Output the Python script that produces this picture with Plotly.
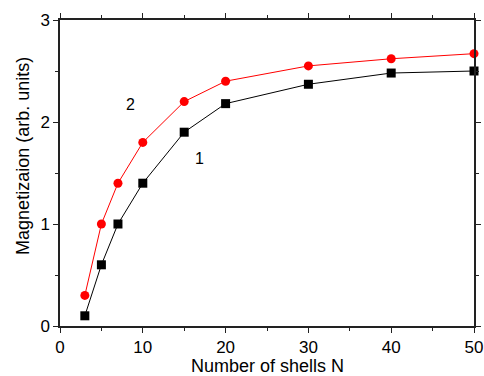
import plotly.graph_objects as go

shells = [3, 5, 7, 10, 15, 20, 30, 40, 50]
magn_1 = [0.1, 0.6, 1.0, 1.4, 1.9, 2.18, 2.37, 2.48, 2.5]
magn_2 = [0.3, 1.0, 1.4, 1.8, 2.2, 2.4, 2.55, 2.62, 2.67]
x_ticks = [0, 10, 20, 30, 40, 50]
y_ticks = [0, 1, 2, 3]

FONT = "Liberation Sans, Arial"

fig = go.Figure()
fig.add_trace(go.Scatter(x=shells, y=magn_1, mode="lines+markers",
                         line=dict(color="black", width=1),
                         marker=dict(symbol="square", size=9, color="black"),
                         cliponaxis=False))
fig.add_trace(go.Scatter(x=shells, y=magn_2, mode="lines+markers",
                         line=dict(color="red", width=1),
                         marker=dict(symbol="circle", size=9, color="red"),
                         cliponaxis=False))

fig.add_annotation(x=8.5, y=2.17, text="2", showarrow=False,
                   font=dict(size=16, color="black", family=FONT))
fig.add_annotation(x=16.9, y=1.64, text="1", showarrow=False,
                   font=dict(size=16, color="black", family=FONT))

# axis titles as annotations (positions relative to paper)
fig.add_annotation(text="Number of shells N", xref="paper", yref="paper",
                   x=0.5, y=-0.132, yanchor="middle", showarrow=False,
                   font=dict(size=18, color="black", family=FONT))
fig.add_annotation(text="Magnetizaion (arb. units)", xref="paper", yref="paper",
                   x=-0.09, xanchor="center", y=0.555, yanchor="middle", textangle=-90,
                   showarrow=False, font=dict(size=18, color="black", family=FONT))

axis_common = dict(showline=True, linecolor="#222", linewidth=1.5, mirror="ticks",
                   ticks="outside", ticklen=5, tickwidth=1, tickcolor="#222",
                   showgrid=False, zeroline=False, automargin=False,
                   ticklabeloverflow="allow",
                   tickfont=dict(size=17, color="black", family=FONT))

fig.update_xaxes(range=[0, 50], tickvals=x_ticks,
                 minor=dict(dtick=5, ticks="outside", ticklen=3, tickcolor="#222"),
                 **axis_common)
fig.update_yaxes(range=[0, 3], tickvals=y_ticks,
                 minor=dict(dtick=0.5, ticks="outside", ticklen=3, tickcolor="#222"),
                 **axis_common)

fig.update_layout(width=484, height=376, showlegend=False,
                  plot_bgcolor="white", paper_bgcolor="white",
                  margin=dict(l=60, r=10, t=20, b=50))

fig.write_html("out.html")
